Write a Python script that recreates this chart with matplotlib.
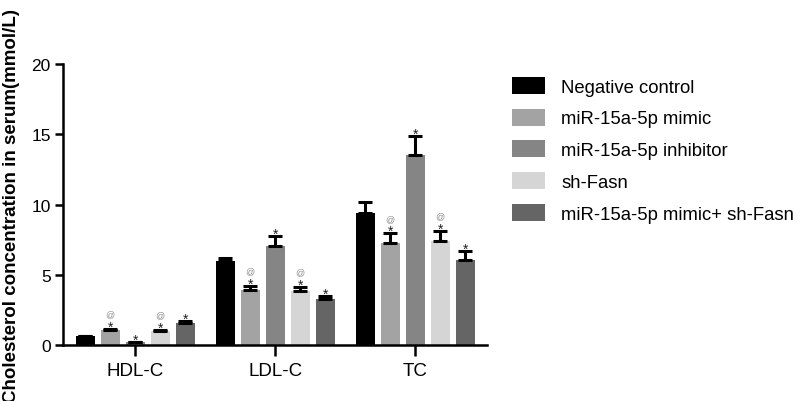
import matplotlib.pyplot as plt
import numpy as np
from matplotlib.patches import Patch

plt.rcParams["font.family"] = ["Liberation Sans", "DejaVu Sans"]

groups = ["HDL-C", "LDL-C", "TC"]
series = [
    "Negative control",
    "miR-15a-5p mimic",
    "miR-15a-5p inhibitor",
    "sh-Fasn",
    "miR-15a-5p mimic+ sh-Fasn",
]
colors = ["#000000", "#a3a3a3", "#858585", "#d5d5d5", "#656565"]

# rows: series, columns: groups
means = [
    [0.62, 6.0, 9.42],
    [1.07, 3.94, 7.3],
    [0.19, 7.07, 13.55],
    [1.02, 3.87, 7.38],
    [1.6, 3.25, 6.05],
]
errors = [
    [0.05, 0.17, 0.8],
    [0.08, 0.28, 0.67],
    [0.05, 0.7, 1.35],
    [0.07, 0.3, 0.75],
    [0.1, 0.25, 0.65],
]
star = [False, True, True, True, True]
at_sign = [False, True, False, True, False]

fig = plt.figure(figsize=(8, 4.02), dpi=100)
ax = fig.add_axes([0.079, 0.139, 0.53, 0.699])

x = np.arange(len(groups)) * 1.0
step = 25 / 140
width = 19 / 140

for i, name in enumerate(series):
    xs = x + (i - 2) * step
    ax.bar(xs, means[i], width, color=colors[i], zorder=2)
    ax.errorbar(xs, means[i], yerr=[np.zeros(3), errors[i]], fmt="none",
                ecolor="black", elinewidth=2.2, capsize=5, capthick=2.2,
                zorder=3)
    for xv, m, e in zip(xs, means[i], errors[i]):
        top = m + e
        if star[i]:
            ax.annotate("*", (xv, top), xytext=(0, -3.5), textcoords="offset points",
                        ha="center", va="bottom", fontsize=10, color="#202020")
        if at_sign[i]:
            ax.annotate("@", (xv, top), xytext=(0, 7.5), textcoords="offset points",
                        ha="center", va="bottom", fontsize=6.5, color="#8a8a8a")

ax.set_xlim(-72 / 140, 2 + 72 / 140)
ax.set_ylim(0, 20)
ax.set_yticks([0, 5, 10, 15, 20])
ax.set_xticks(x)
ax.set_xticklabels(groups)

for s in ["top", "right"]:
    ax.spines[s].set_visible(False)
for s in ["left", "bottom"]:
    ax.spines[s].set_linewidth(1.8)
ax.tick_params(axis="y", length=6, width=1.8, labelsize=12.5, pad=3)
ax.tick_params(axis="x", length=8, width=1.8, labelsize=13.5, pad=4)

ax.set_ylabel("Cholesterol concentration in serum(mmol/L)", fontsize=13.5,
              fontweight="bold")
ax.yaxis.set_label_coords(-0.102, 0.5)

handles = [Patch(facecolor=c) for c in colors]
fig.legend(handles, series, loc="upper left", bbox_to_anchor=(0.631, 0.825),
           frameon=False, fontsize=13.3, handlelength=1.8, handleheight=1.05,
           handletextpad=0.85, labelspacing=0.7, borderaxespad=0)

fig.savefig("out.png", dpi=100)
